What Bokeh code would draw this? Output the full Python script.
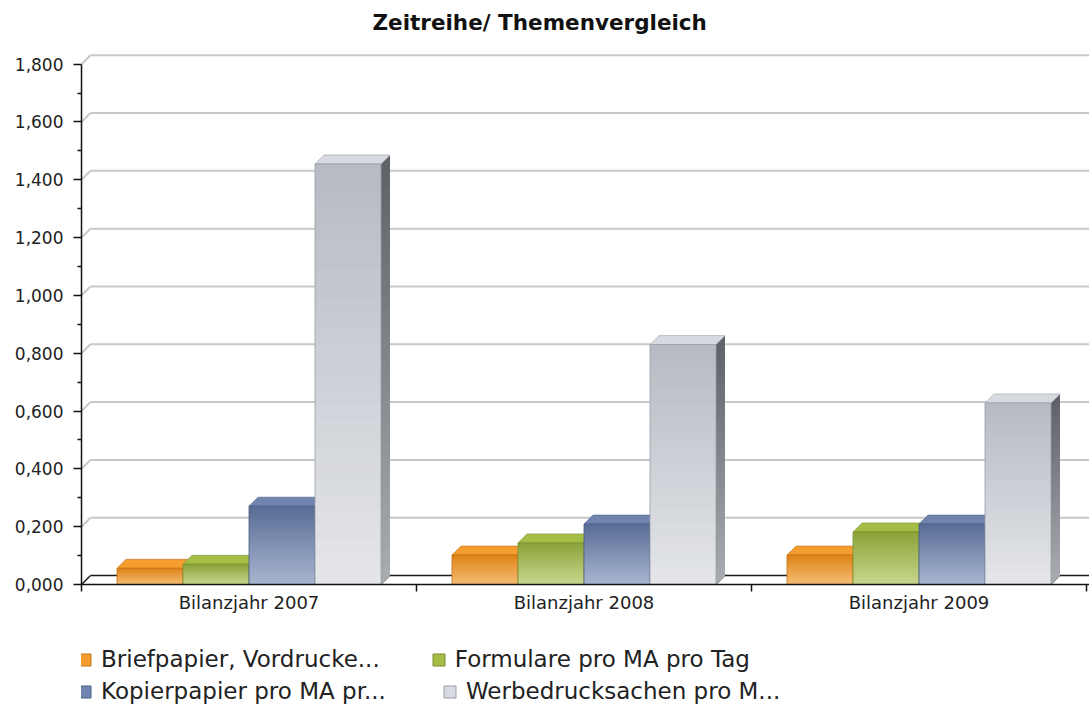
from bokeh.plotting import figure
from bokeh.layouts import column
from bokeh.models import Range1d, FixedTicker, Legend, LegendItem
from bokeh.embed import file_html
from bokeh.resources import INLINE

# ---------------- data ----------------
CATEGORIES = ["Bilanzjahr 2007", "Bilanzjahr 2008", "Bilanzjahr 2009"]
SERIES = [
    "Briefpapier, Vordrucke...",
    "Formulare pro MA pro Tag",
    "Kopierpapier pro MA pr...",
    "Werbedrucksachen pro M...",
]
BRIEFPAPIER = [0.056, 0.102, 0.102]
FORMULARE = [0.070, 0.144, 0.182]
KOPIERPAPIER = [0.271, 0.209, 0.209]
WERBEDRUCKSACHEN = [1.455, 0.830, 0.628]
VALUES = [BRIEFPAPIER, FORMULARE, KOPIERPAPIER, WERBEDRUCKSACHEN]

Y_TICKS = [0.0, 0.2, 0.4, 0.6, 0.8, 1.0, 1.2, 1.4, 1.6, 1.8]
Y_TICK_LABELS = ["0,000", "0,200", "0,400", "0,600", "0,800",
                 "1,000", "1,200", "1,400", "1,600", "1,800"]
Y_MINOR_TICKS = [0.1, 0.3, 0.5, 0.7, 0.9, 1.1, 1.3, 1.5, 1.7]
X_CENTERS = [0.5, 1.5, 2.5]
X_BOUNDARIES = [0, 1, 2, 3]

# ---------------- styling ----------------
# (front top colour, front bottom colour, top face, side top, side bottom, edge)
STYLES = [
    ("#de8318", "#f6bd74", "#f59d2e", "#b86a10", "#d89040", "#c07018"),
    ("#8aa238", "#c9d78f", "#a4bd45", "#6f8628", "#9fb060", "#7a9030"),
    ("#586c95", "#a9b6d0", "#6f84ae", "#3f4f74", "#7d8aa8", "#4a5c84"),
    ("#b6bac2", "#e4e6ea", "#d7dae0", "#5e6267", "#a8acb0", "#9a9ea6"),
]

W = 1089
H_CHART, H_LEGEND = 640, 64
LEFT, TOP, BOTTOM, RIGHT = 81, 40, 56, 0
FRAME_W = W - LEFT - RIGHT
FRAME_H = H_CHART - TOP - BOTTOM
PX_PER_CAT = 335.0
PX_PER_UNIT = 289.6
X_END = FRAME_W / PX_PER_CAT
Y_END = FRAME_H / PX_PER_UNIT
DEPTH = 9.0
DX = DEPTH / PX_PER_CAT
DY = DEPTH / PX_PER_UNIT
BAR_W = 66.0 / PX_PER_CAT
N_BANDS = 28


def hex2rgb(h):
    h = h.lstrip("#")
    return tuple(int(h[i:i + 2], 16) for i in (0, 2, 4))


def lerp(c1, c2, t):
    a, b = hex2rgb(c1), hex2rgb(c2)
    return "#%02x%02x%02x" % tuple(int(round(a[i] + (b[i] - a[i]) * t)) for i in range(3))


p = figure(width=W, height=H_CHART, output_backend="svg", toolbar_location=None,
           x_range=Range1d(0, X_END), y_range=Range1d(0, Y_END),
           min_border_left=LEFT, min_border_right=RIGHT,
           min_border_top=TOP, min_border_bottom=BOTTOM)
p.outline_line_color = None
p.grid.visible = False
p.background_fill_color = "white"
p.border_fill_color = "white"

# title
p.title.text = "Zeitreihe/ Themenvergleich"
p.title.align = "left"
p.title.offset = 291
p.title.text_font = "DejaVu Sans"
p.title.text_font_style = "bold"
p.title.text_font_size = "21.5px"
p.title.text_color = "#111111"
p.title.standoff = 14

# back-wall grid lines (shifted by the 3D depth)
grid_vals = Y_TICKS[1:]
p.segment(x0=[DX] * len(grid_vals), y0=[v + DY for v in grid_vals],
          x1=[X_END] * len(grid_vals), y1=[v + DY for v in grid_vals],
          line_color="#c8c8c8", line_width=2)
p.segment(x0=[0] * len(grid_vals), y0=grid_vals,
          x1=[DX] * len(grid_vals), y1=[v + DY for v in grid_vals],
          line_color="#c8c8c8", line_width=2)
# floor line
p.segment(x0=[0, DX], y0=[Y_TICKS[0], Y_TICKS[0] + DY],
          x1=[DX, X_END], y1=[Y_TICKS[0] + DY, Y_TICKS[0] + DY],
          line_color="#1a1a1a", line_width=1.5)

n_series = len(SERIES)
for s, (name, vals) in enumerate(zip(SERIES, VALUES)):
    ftop, fbot, topc, stop, sbot, edge = STYLES[s]
    x0s = [c - n_series * BAR_W / 2 + s * BAR_W for c in X_CENTERS]
    x1s = [x0 + BAR_W for x0 in x0s]
    xc = [x0 + BAR_W / 2 for x0 in x0s]

    # side face (nested bands => gradient)
    sxs, sys_, scs = [], [], []
    for k in range(N_BANDS):
        f = (N_BANDS - k) / N_BANDS
        t = 1 - (f - 0.5 / N_BANDS)
        col = lerp(stop, sbot, t)
        for x1, v in zip(x1s, vals):
            sxs.append([x1, x1, x1 + DX, x1 + DX])
            sys_.append([0, f * v, f * v + DY, DY])
            scs.append(col)
    p.patches(xs=sxs, ys=sys_, fill_color=scs, line_color=None)

    # top face
    txs = [[x0, x0 + DX, x1 + DX, x1] for x0, x1 in zip(x0s, x1s)]
    tys = [[v, v + DY, v + DY, v] for v in vals]
    p.patches(xs=txs, ys=tys, fill_color=topc, line_color=edge,
              line_width=0.8, line_alpha=0.7)

    # front face (nested bands => vertical gradient)
    bx, btop, bcol = [], [], []
    for k in range(N_BANDS):
        f = (N_BANDS - k) / N_BANDS
        t = 1 - (f - 0.5 / N_BANDS)
        col = lerp(ftop, fbot, t)
        for c, v in zip(xc, vals):
            bx.append(c)
            btop.append(f * v)
            bcol.append(col)
    p.vbar(x=bx, bottom=0, top=btop, width=BAR_W, fill_color=bcol, line_color=None)
    p.vbar(x=xc, bottom=0, top=vals, width=BAR_W, fill_alpha=0,
           line_color=edge, line_width=1, line_alpha=0.8)

# y axis
ya = p.yaxis[0]
ya.ticker = FixedTicker(ticks=Y_TICKS, minor_ticks=Y_MINOR_TICKS)
ya.major_label_overrides = {t: l for t, l in zip(Y_TICKS, Y_TICK_LABELS)}
ya.bounds = (Y_TICKS[0], Y_TICKS[-1])
ya.major_tick_out = 8
ya.major_tick_in = 0
ya.minor_tick_out = 4
ya.minor_tick_in = 0
ya.major_label_standoff = 10
ya.axis_line_color = "#111111"
ya.axis_line_width = 1.5
ya.major_tick_line_color = "#111111"
ya.major_tick_line_width = 1.5
ya.minor_tick_line_color = "#111111"
ya.minor_tick_line_width = 1.5
ya.major_label_text_font = "DejaVu Sans"
ya.major_label_text_font_size = "17px"
ya.major_label_text_color = "#222222"

# x axis
xa = p.xaxis[0]
xa.ticker = FixedTicker(ticks=X_CENTERS, minor_ticks=X_BOUNDARIES)
xa.major_label_overrides = {t: l for t, l in zip(X_CENTERS, CATEGORIES)}
xa.major_tick_out = 0
xa.major_tick_in = 0
xa.minor_tick_out = 7
xa.minor_tick_in = 0
xa.major_label_standoff = 0
xa.axis_line_color = "#111111"
xa.axis_line_width = 1.5
xa.minor_tick_line_color = "#111111"
xa.minor_tick_line_width = 1.5
xa.major_label_text_font = "DejaVu Sans"
xa.major_label_text_font_size = "18px"
xa.major_label_text_color = "#222222"

# ---------------- legend strip ----------------
lp = figure(width=W, height=H_LEGEND, output_backend="svg", toolbar_location=None,
            x_range=Range1d(0, 1), y_range=Range1d(0, 1),
            x_axis_type=None, y_axis_type=None,
            min_border_left=0, min_border_right=0, min_border_top=0, min_border_bottom=0)
lp.outline_line_color = None
lp.grid.visible = False
lp.background_fill_color = "white"
lp.border_fill_color = "white"

# legend-key proxies (kept outside the strip's visible range)
items = []
for s, name in enumerate(SERIES):
    topc, edge = STYLES[s][2], STYLES[s][5]
    r = lp.vbar(x=[-5], bottom=[-5], top=[-4], width=0.1,
                fill_color=topc, line_color=edge, line_width=1)
    items.append(LegendItem(label=name, renderers=[r]))


def make_legend(its, spacing, loc):
    lg = Legend(items=its, orientation="horizontal", location=loc)
    lg.label_text_font = "DejaVu Sans"
    lg.label_text_font_size = "23px"
    lg.label_text_color = "#222222"
    lg.glyph_width = 15
    lg.glyph_height = 15
    lg.label_standoff = 9
    lg.spacing = spacing
    lg.padding = 0
    lg.margin = 0
    lg.border_line_color = None
    lg.background_fill_alpha = 0
    return lg


lp.add_layout(make_legend(items[:2], 51, (-4, 32)), "center")
lp.add_layout(make_legend(items[2:], 56, (-4, 0)), "center")

layout = column(p, lp, spacing=0)
open("out.html", "w").write(file_html(layout, INLINE))
